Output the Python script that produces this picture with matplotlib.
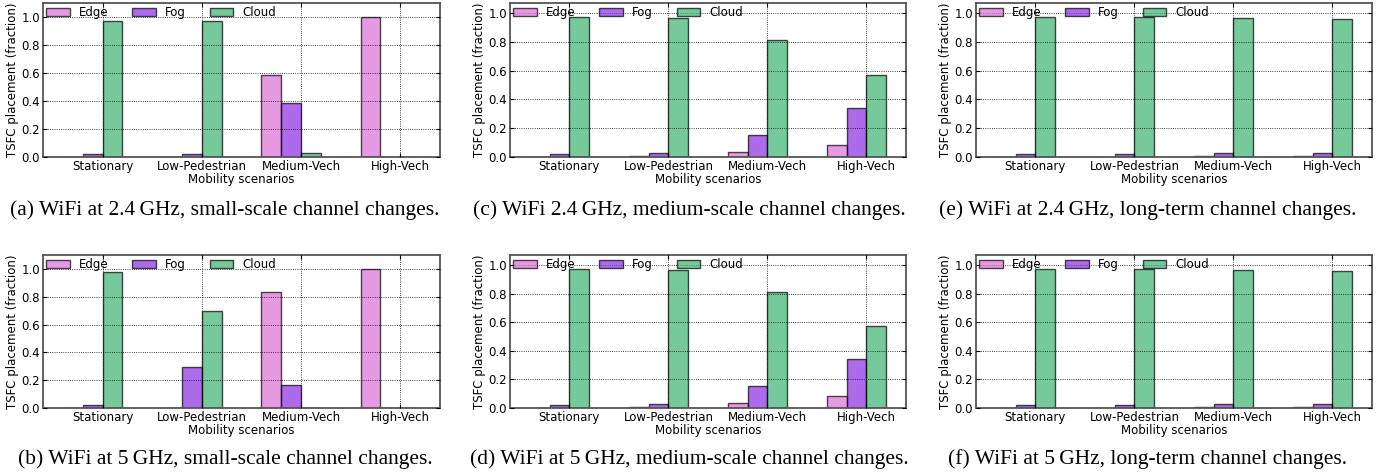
import numpy as np
import matplotlib
matplotlib.use('Agg')
import matplotlib.pyplot as plt

scenarios = ['Stationary', 'Low-Pedestrian', 'Medium-Vech', 'High-Vech']
tiers = ['Edge', 'Fog', 'Cloud']
tier_colors = ['orchid', 'blueviolet', 'mediumseagreen']

# values per panel: rows = scenarios, cols = Edge, Fog, Cloud
wifi24_small = [[0.003, 0.020, 0.975],
                [0.003, 0.020, 0.975],
                [0.586, 0.383, 0.029],
                [1.000, 0.000, 0.000]]
wifi5_small = [[0.003, 0.020, 0.975],
               [0.003, 0.293, 0.700],
               [0.836, 0.163, 0.003],
               [1.000, 0.000, 0.000]]
wifi24_medium = [[0.003, 0.021, 0.972],
                 [0.005, 0.030, 0.963],
                 [0.037, 0.151, 0.809],
                 [0.086, 0.340, 0.570]]
wifi5_medium = [[0.003, 0.021, 0.972],
                [0.005, 0.028, 0.963],
                [0.035, 0.151, 0.809],
                [0.086, 0.340, 0.570]]
wifi24_long = [[0.003, 0.020, 0.972],
               [0.003, 0.020, 0.972],
               [0.004, 0.025, 0.967],
               [0.006, 0.030, 0.960]]
wifi5_long = [[0.003, 0.020, 0.972],
              [0.003, 0.020, 0.972],
              [0.004, 0.025, 0.967],
              [0.006, 0.028, 0.960]]

captions = ['(a) WiFi at 2.4\u2009GHz, small-scale channel changes.',
            '(b) WiFi at 5\u2009GHz, small-scale channel changes.',
            '(c) WiFi 2.4\u2009GHz, medium-scale channel changes.',
            '(d) WiFi at 5\u2009GHz, medium-scale channel changes.',
            '(e) WiFi at 2.4\u2009GHz, long-term channel changes.',
            '(f) WiFi at 5\u2009GHz, long-term channel changes.']

panels = [wifi24_small, wifi5_small, wifi24_medium, wifi5_medium, wifi24_long, wifi5_long]

W, H = 1396, 476
fig = plt.figure(figsize=(W / 100, H / 100), dpi=100)

col_lr = [(43, 440), (510, 906), (976, 1372)]
row_tb = [(3, 157), (255, 408)]
caption_y = [210, 459]
caption_x = [225, 689, 1148]

width = 0.2
for k, data in enumerate(panels):
    col, row = k // 2, k % 2
    l, r = col_lr[col]
    t, b = row_tb[row]
    ax = fig.add_axes([l / W, 1 - b / H, (r - l) / W, (b - t) / H])
    vals = np.array(data)
    x = np.arange(len(scenarios))
    for j, name in enumerate(tiers):
        ax.bar(x + 0.2 + j * width, vals[:, j], width, align='edge',
               color=tier_colors[j], alpha=0.7, edgecolor='k', linewidth=1.0,
               label=name)
    ax.set_xlim(0, len(scenarios))
    ax.set_ylim(0, vals.max() * 1.1)
    ax.set_xticks(x + 0.6)
    ax.set_xticklabels(scenarios, fontsize=8.5)
    ax.set_yticks(np.arange(0, 1.01, 0.2))
    ax.set_yticklabels(['%.1f' % v for v in np.arange(0, 1.01, 0.2)], fontsize=8.5)
    ax.tick_params(direction='in', top=True, right=True, length=3, pad=2)
    ax.grid(True, linestyle=':', color='k', linewidth=0.6)
    ax.set_axisbelow(False)
    for s in ax.spines.values():
        s.set_color('#555555')
        s.set_linewidth(1.3)
    ax.set_xlabel('Mobility scenarios', fontsize=8.5, labelpad=0)
    ax.set_ylabel('TSFC placement (fraction)', fontsize=8.5, labelpad=2)
    ax.legend(loc='upper left', ncol=3, frameon=False, fontsize=8.5,
              handlelength=2.0, handletextpad=0.8, columnspacing=2.0,
              borderaxespad=0.1, borderpad=0.15)
    fig.text(caption_x[col] / W, 1 - caption_y[row] / H, captions[k],
             ha='center', va='center', fontsize=15.5,
             family=['Liberation Serif', 'DejaVu Serif'])

fig.savefig('out.png', dpi=100)
